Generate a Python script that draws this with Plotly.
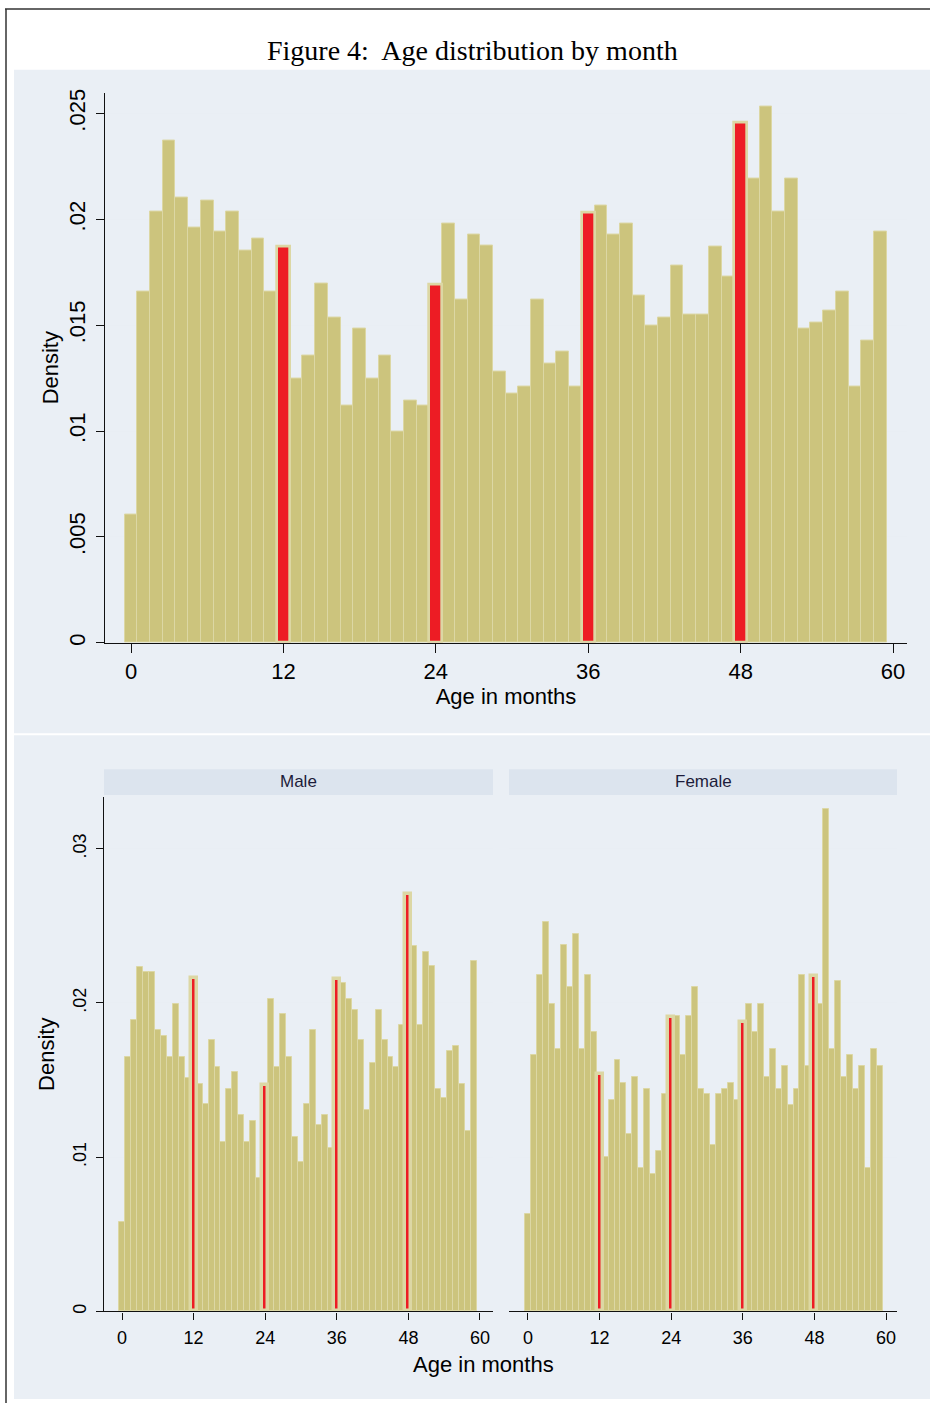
import plotly.graph_objects as go

# ---------------- data ----------------
months = list(range(60))
red_months = [12, 24, 36, 48]
x_ticks = [0, 12, 24, 36, 48, 60]
x_tick_text = ["0", "12", "24", "36", "48", "60"]
top_y_ticks = [0, 0.005, 0.01, 0.015, 0.02, 0.025]
top_y_text = ["0", ".005", ".01", ".015", ".02", ".025"]
bot_y_ticks = [0, 0.01, 0.02, 0.03]
bot_y_text = ["0", ".01", ".02", ".03"]

all_density = [
    0.00607, 0.01659, 0.02035, 0.02374, 0.02104, 0.01960, 0.02089, 0.01944, 0.02035, 0.01854, 0.01908, 0.01659,
    0.01870, 0.01249, 0.01355, 0.01696, 0.01536, 0.01122, 0.01482, 0.01249, 0.01355, 0.01000, 0.01143, 0.01122,
    0.01692, 0.01981, 0.01623, 0.01927, 0.01875, 0.01283, 0.01177, 0.01212, 0.01621, 0.01320, 0.01374, 0.01212,
    0.02030, 0.02066, 0.01927, 0.01981, 0.01642, 0.01499, 0.01536, 0.01783, 0.01551, 0.01551, 0.01873, 0.01729,
    0.02456, 0.02195, 0.02534, 0.02035, 0.02195, 0.01482, 0.01515, 0.01569, 0.01659, 0.01212, 0.01428, 0.01944,
]
male_density = [
    0.00581, 0.01650, 0.01892, 0.02234, 0.02200, 0.02200, 0.01822, 0.01785, 0.01650, 0.01994, 0.01650, 0.01514,
    0.02161, 0.01477, 0.01344, 0.01759, 0.01587, 0.01099, 0.01441, 0.01553, 0.01271, 0.01099, 0.01232, 0.00865,
    0.01469, 0.02028, 0.01587, 0.01931, 0.01650, 0.01133, 0.00968, 0.01344, 0.01822, 0.01211, 0.01271, 0.01062,
    0.02155, 0.02129, 0.02028, 0.01957, 0.01759, 0.01308, 0.01613, 0.01957, 0.01759, 0.01650, 0.01587, 0.01858,
    0.02703, 0.02372, 0.01858, 0.02333, 0.02237, 0.01441, 0.01381, 0.01686, 0.01720, 0.01477, 0.01172, 0.02273,
]
female_density = [
    0.00631, 0.01664, 0.02181, 0.02522, 0.01994, 0.01703, 0.02375, 0.02106, 0.02448, 0.01703, 0.02181, 0.01810,
    0.01541, 0.01002, 0.01369, 0.01627, 0.01481, 0.01151, 0.01517, 0.00931, 0.01444, 0.00890, 0.01039, 0.01407,
    0.01912, 0.01918, 0.01664, 0.01918, 0.02106, 0.01444, 0.01407, 0.01078, 0.01407, 0.01444, 0.01481, 0.01369,
    0.01879, 0.01996, 0.01810, 0.01996, 0.01517, 0.01703, 0.01444, 0.01590, 0.01336, 0.01444, 0.02181, 0.01590,
    0.02177, 0.01996, 0.03259, 0.01703, 0.02144, 0.01517, 0.01664, 0.01444, 0.01590, 0.00931, 0.01703, 0.01590,
]

# ---------------- style ----------------
W, H = 930, 1406
KHAKI = "#CCC47D"
KHAKI_LINE = "#DCD7A4"
RED = "#ED1C24"
PANEL_BG = "#EAEFF5"
STRIP_BG = "#DCE4EE"
GRID = "#E9EEF4"
SANS = "Liberation Sans, Arial, sans-serif"
SERIF = "Liberation Serif, Times New Roman, serif"


def px(x):
    return x / W


def py(y):
    return 1 - y / H


def split(vals):
    kx = [m for m in months if m not in red_months]
    ky = [vals[m] for m in kx]
    rx = list(red_months)
    ry = [vals[m] for m in rx]
    return kx, ky, rx, ry


fig = go.Figure()

panels = [
    (all_density, "x", "y", 1.0, 2.7),
    (male_density, "x2", "y2", 1.0, 3.5),
    (female_density, "x3", "y3", 1.0, 3.5),
]
for vals, xa, ya, lw, rlw in panels:
    kx, ky, rx, ry = split(vals)
    fig.add_trace(go.Bar(x=kx, y=ky, width=1, xaxis=xa, yaxis=ya,
                         marker=dict(color=KHAKI, line=dict(color=KHAKI_LINE, width=lw)),
                         showlegend=False, hoverinfo="x+y"))
    fig.add_trace(go.Bar(x=rx, y=ry, width=1, xaxis=xa, yaxis=ya,
                         marker=dict(color=RED, line=dict(color=KHAKI_LINE, width=rlw)),
                         showlegend=False, hoverinfo="x+y"))

axis_common = dict(showline=True, linecolor="#111111", linewidth=1.3, ticks="outside",
                   tickcolor="#111111", tickwidth=1.3, zeroline=False, fixedrange=True)

fig.update_layout(
    width=W, height=H, autosize=False,
    margin=dict(l=0, r=0, t=0, b=0),
    paper_bgcolor="white", plot_bgcolor="white",
    barmode="overlay", bargap=0,
    font=dict(family=SANS, color="black"),
    xaxis=dict(domain=[px(105), px(907)], range=[-2.05, 61.1], anchor="y",
               tickvals=x_ticks, ticktext=x_tick_text, ticklen=9, showgrid=False,
               tickfont=dict(size=22), ticklabelstandoff=0,
               title=dict(text="Age in months", font=dict(size=22), standoff=0), **axis_common),
    yaxis=dict(domain=[py(642), py(89)], range=[0, 0.02599], anchor="x",
               tickvals=top_y_ticks, ticktext=top_y_text, ticklen=8, tickangle=-90,
               showgrid=True, gridcolor=GRID, gridwidth=1.3,
               tickfont=dict(size=22), ticklabelstandoff=2,
               title=dict(text="Density", font=dict(size=22), standoff=0), **axis_common),
    xaxis2=dict(domain=[px(104), px(493)], range=[-3.02, 62.18], anchor="y2",
                tickvals=x_ticks, ticktext=x_tick_text, ticklen=7, showgrid=False,
                tickfont=dict(size=18), ticklabelstandoff=3, **axis_common),
    yaxis2=dict(domain=[py(1314), py(797)], range=[0, 0.03335], anchor="x2",
                tickvals=bot_y_ticks, ticktext=bot_y_text, ticklen=7, tickangle=-90,
                showgrid=True, gridcolor=GRID, gridwidth=1.3,
                tickfont=dict(size=18), ticklabelstandoff=3,
                title=dict(text="Density", font=dict(size=22), standoff=8), **axis_common),
    xaxis3=dict(domain=[px(509), px(897)], range=[-3.18, 61.84], anchor="y3",
                tickvals=x_ticks, ticktext=x_tick_text, ticklen=7, showgrid=False,
                tickfont=dict(size=18), ticklabelstandoff=3, **axis_common),
    yaxis3=dict(domain=[py(1314), py(797)], range=[0, 0.03335], anchor="x3",
                tickvals=bot_y_ticks, showticklabels=False, ticks="", showline=False,
                showgrid=True, gridcolor=GRID, gridwidth=1.3, zeroline=False, fixedrange=True),
)

shapes = [
    dict(type="rect", xref="paper", yref="paper", x0=px(14), x1=1, y0=py(733), y1=py(66),
         fillcolor=PANEL_BG, line=dict(width=0), layer="below"),
    dict(type="rect", xref="paper", yref="paper", x0=px(14), x1=1, y0=py(1402), y1=py(735),
         fillcolor=PANEL_BG, line=dict(width=0), layer="below"),
    dict(type="rect", xref="paper", yref="paper", x0=px(104), x1=px(493), y0=py(795), y1=py(769),
         fillcolor=STRIP_BG, line=dict(width=0), layer="below"),
    dict(type="rect", xref="paper", yref="paper", x0=px(509), x1=px(897), y0=py(795), y1=py(769),
         fillcolor=STRIP_BG, line=dict(width=0), layer="below"),
    dict(type="line", xref="paper", yref="paper", x0=px(5), x1=1, y0=py(5), y1=py(5),
         line=dict(color="#333333", width=1.5)),
    dict(type="line", xref="paper", yref="paper", x0=px(6), x1=px(6), y0=py(5), y1=0,
         line=dict(color="#333333", width=1.5)),
]
fig.update_layout(shapes=shapes)

annotations = [
    dict(text="Figure 4:  Age distribution by month", x=px(472), y=py(47), xref="paper", yref="paper",
         showarrow=False, xanchor="center", yanchor="middle", font=dict(family=SERIF, size=28, color="black")),
    dict(text="Male", x=px(298.5), y=py(781), xref="paper", yref="paper", showarrow=False,
         xanchor="center", yanchor="middle", font=dict(size=17, color="#1c1c3a")),
    dict(text="Female", x=px(703), y=py(781), xref="paper", yref="paper", showarrow=False,
         xanchor="center", yanchor="middle", font=dict(size=17, color="#1c1c3a")),
    dict(text="Age in months", x=px(484), y=py(1367), xref="paper", yref="paper", showarrow=False,
         xanchor="center", yanchor="middle", font=dict(size=22, color="black")),
]
fig.update_layout(annotations=annotations)

fig.write_html(
    "out.html",
    config={"displayModeBar": False},
    post_script="document.body.style.margin='0';document.body.style.overflow='hidden';",
)
